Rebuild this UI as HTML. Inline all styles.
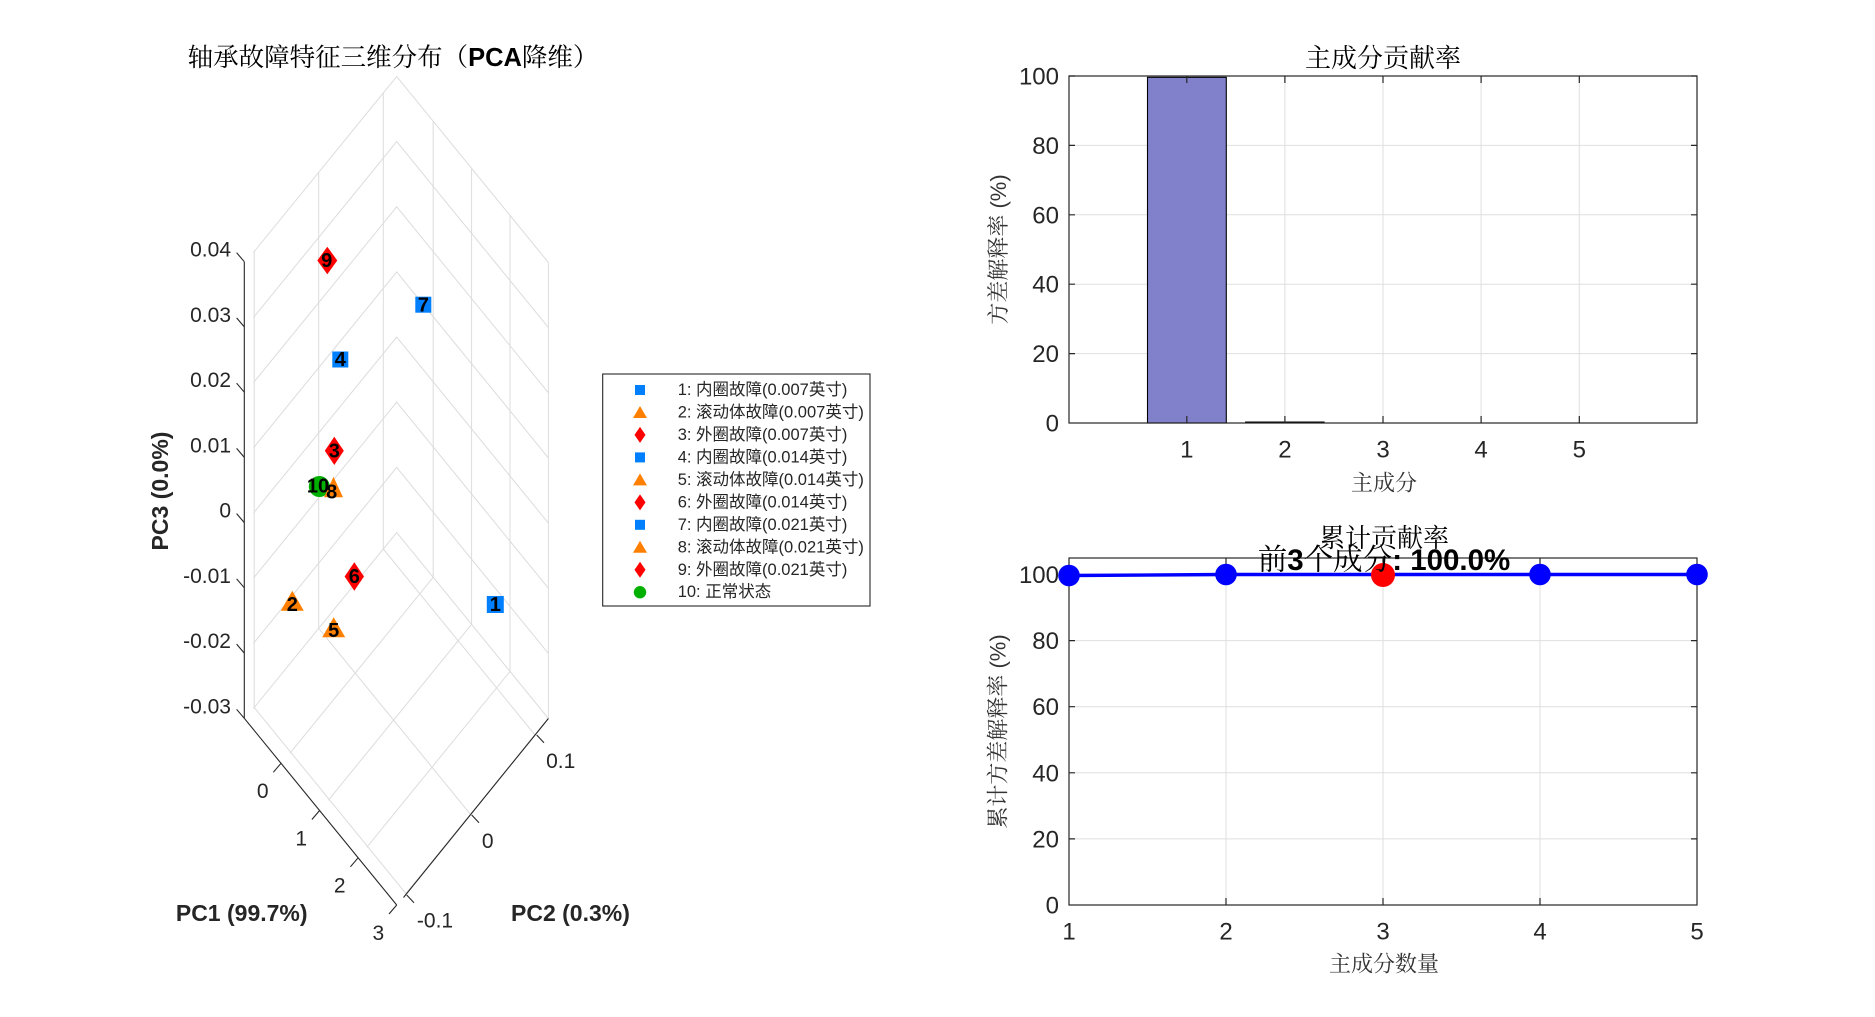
<!DOCTYPE html>
<html><head><meta charset="utf-8"><style>html,body{margin:0;padding:0;background:#fff}svg{display:block}</style></head>
<body>
<svg xmlns="http://www.w3.org/2000/svg" width="1875" height="1017" viewBox="0 0 1875 1017">
<rect width="1875" height="1017" fill="#fff"/>
<g font-family="'Liberation Sans','Noto Serif CJK SC',serif">

<!-- ============ LEFT 3D PLOT ============ -->
<text x="393" y="58" font-size="25.5" text-anchor="middle" dominant-baseline="central" fill="#000">轴承故障特征三维分布（<tspan font-weight="bold" font-family="'Liberation Sans',sans-serif">PCA</tspan>降维）</text>

<g stroke="#dcdcdc" stroke-width="1" fill="none">
  <polyline points="253.4,708.5 396.7,532.5 548.4,718.5"/>
  <polyline points="253.4,643.4 396.7,467.4 548.4,653.4"/>
  <polyline points="253.4,578.2 396.7,402.2 548.4,588.2"/>
  <polyline points="253.4,513.1 396.7,337.1 548.4,523.1"/>
  <polyline points="253.4,447.9 396.7,271.9 548.4,457.9"/>
  <polyline points="253.4,382.8 396.7,206.8 548.4,392.8"/>
  <polyline points="253.4,317.6 396.7,141.6 548.4,327.6"/>
  <polyline points="253.4,252.5 396.7,76.5 548.4,262.5"/>
  <line x1="254.2" y1="707.5" x2="254.2" y2="251.5"/>
  <line x1="318.7" y1="628.3" x2="318.7" y2="172.3"/>
  <line x1="383.3" y1="549" x2="383.3" y2="93"/>
  <line x1="433.2" y1="577.3" x2="433.2" y2="121.3"/>
  <line x1="471.6" y1="624.3" x2="471.6" y2="168.3"/>
  <line x1="510" y1="671.4" x2="510" y2="215.4"/>
  <line x1="548.4" y1="718.5" x2="548.4" y2="262.5"/>
  <line x1="433.2" y1="577.3" x2="289.9" y2="753.3"/>
  <line x1="471.6" y1="624.3" x2="328.3" y2="800.3"/>
  <line x1="510" y1="671.4" x2="366.7" y2="847.4"/>
  <line x1="548.4" y1="718.5" x2="405.1" y2="894.5"/>
  <line x1="383.3" y1="549" x2="535" y2="735"/>
  <line x1="318.7" y1="628.3" x2="470.4" y2="814.3"/>
  <line x1="254.2" y1="707.5" x2="405.9" y2="893.5"/>
</g>

<g stroke="#262626" stroke-width="1.1" fill="none">
  <line x1="244.3" y1="261.7" x2="244.3" y2="718.3"/>
  <line x1="244.3" y1="718.3" x2="396.7" y2="905"/>
  <line x1="403.5" y1="897.5" x2="548.4" y2="718.5"/>
  <line x1="244.3" y1="261.7" x2="236.6" y2="252.7"/>
  <line x1="244.3" y1="326.9" x2="236.6" y2="317.9"/>
  <line x1="244.3" y1="392.2" x2="236.6" y2="383.2"/>
  <line x1="244.3" y1="457.4" x2="236.6" y2="448.4"/>
  <line x1="244.3" y1="522.6" x2="236.6" y2="513.6"/>
  <line x1="244.3" y1="587.8" x2="236.6" y2="578.8"/>
  <line x1="244.3" y1="653.1" x2="236.6" y2="644.1"/>
  <line x1="244.3" y1="718.3" x2="236.6" y2="709.3"/>
  <line x1="281" y1="763.3" x2="273.3" y2="772.3"/>
  <line x1="319.6" y1="810.5" x2="311.9" y2="819.5"/>
  <line x1="358.1" y1="857.8" x2="350.4" y2="866.8"/>
  <line x1="396.7" y1="905" x2="389" y2="914"/>
  <line x1="406.7" y1="895" x2="414" y2="902.7"/>
  <line x1="471.7" y1="815" x2="479" y2="822.7"/>
  <line x1="536.7" y1="735" x2="544" y2="742.7"/>
</g>

<g font-size="21" fill="#262626" dominant-baseline="central" font-family="'Liberation Sans',sans-serif">
  <g text-anchor="end">
    <text x="231" y="250.2">0.04</text>
    <text x="231" y="315.4">0.03</text>
    <text x="231" y="380.7">0.02</text>
    <text x="231" y="445.9">0.01</text>
    <text x="231" y="511.1">0</text>
    <text x="231" y="576.3">-0.01</text>
    <text x="231" y="641.6">-0.02</text>
    <text x="231" y="706.8">-0.03</text>
    <text x="268.5" y="791.7">0</text>
    <text x="307.1" y="838.9">1</text>
    <text x="345.6" y="886.2">2</text>
    <text x="384.2" y="933.4">3</text>
  </g>
  <text x="416.9" y="921">-0.1</text>
  <text x="481.9" y="841.7">0</text>
  <text x="546.1" y="761.7">0.1</text>
</g>

<g font-size="23" font-weight="bold" fill="#262626" dominant-baseline="central" font-family="'Liberation Sans',sans-serif">
  <text x="241.7" y="913" text-anchor="middle">PC1 (99.7%)</text>
  <text x="511" y="913">PC2 (0.3%)</text>
  <text transform="translate(160,491) rotate(-90)" text-anchor="middle">PC3 (0.0%)</text>
</g>

<g>
  <rect x="486.8" y="596" width="17" height="17" fill="#0080ff"/>
  <polygon points="292.3,590.7 303.8,610.7 280.8,610.7" fill="#ff8000"/>
  <polygon points="334.3,436.7 343.8,450.8 334.3,465 324.8,450.8" fill="#ff0000"/>
  <rect x="332.3" y="351.5" width="16" height="16" fill="#0080ff"/>
  <polygon points="333.7,617.3 345.2,637.3 322.2,637.3" fill="#ff8000"/>
  <polygon points="354.3,562.3 364,576.5 354.3,590.7 344.6,576.5" fill="#ff0000"/>
  <rect x="415.3" y="296.7" width="16" height="16" fill="#0080ff"/>
  <circle cx="319.3" cy="486.5" r="10.5" fill="#00b000"/>
  <polygon points="333.5,476.7 343,497.3 324,497.3" fill="#ff8000"/>
  <polygon points="327.3,246.7 337.3,260.5 327.3,274.3 317.3,260.5" fill="#ff0000"/>
</g>
<g font-size="20" font-weight="bold" fill="#000" text-anchor="middle" dominant-baseline="central" font-family="'Liberation Sans',sans-serif">
  <text x="495.3" y="605">1</text>
  <text x="292.3" y="605">2</text>
  <text x="334.3" y="451.5">3</text>
  <text x="340.3" y="360">4</text>
  <text x="333.7" y="631">5</text>
  <text x="354.3" y="577">6</text>
  <text x="423.3" y="305.5">7</text>
  <text x="331.7" y="492.7">8</text>
  <text x="326.7" y="261">9</text>
  <text x="318" y="486.7">10</text>
</g>

<rect x="602.7" y="374" width="267.3" height="232" fill="#fff" stroke="#262626" stroke-width="1.1"/>
<g>
  <rect x="635" y="385" width="10" height="10" fill="#0080ff"/>
  <polygon points="640,406 647,418 633,418" fill="#ff8000"/>
  <polygon points="640,426.9 645.5,434.9 640,442.9 634.5,434.9" fill="#ff0000"/>
  <rect x="635" y="452.4" width="10" height="10" fill="#0080ff"/>
  <polygon points="640,473.4 647,485.4 633,485.4" fill="#ff8000"/>
  <polygon points="640,494.4 645.5,502.4 640,510.4 634.5,502.4" fill="#ff0000"/>
  <rect x="635" y="519.8" width="10" height="10" fill="#0080ff"/>
  <polygon points="640,540.8 647,552.8 633,552.8" fill="#ff8000"/>
  <polygon points="640,561.8 645.5,569.8 640,577.8 634.5,569.8" fill="#ff0000"/>
  <circle cx="640" cy="592.2" r="6.2" fill="#00b000"/>
</g>
<g font-size="16.5" fill="#262626" dominant-baseline="central" font-family="'Liberation Sans','Noto Sans CJK SC',sans-serif">
  <text x="677.7" y="390">1: 内圈故障(0.007英寸)</text>
  <text x="677.7" y="412.5">2: 滚动体故障(0.007英寸)</text>
  <text x="677.7" y="434.9">3: 外圈故障(0.007英寸)</text>
  <text x="677.7" y="457.4">4: 内圈故障(0.014英寸)</text>
  <text x="677.7" y="479.9">5: 滚动体故障(0.014英寸)</text>
  <text x="677.7" y="502.4">6: 外圈故障(0.014英寸)</text>
  <text x="677.7" y="524.8">7: 内圈故障(0.021英寸)</text>
  <text x="677.7" y="547.3">8: 滚动体故障(0.021英寸)</text>
  <text x="677.7" y="569.8">9: 外圈故障(0.021英寸)</text>
  <text x="677.7" y="592.2">10: 正常状态</text>
</g>

<!-- ============ BAR CHART ============ -->
<g stroke="#dfdfdf" stroke-width="1">
  <line x1="1069" y1="353.6" x2="1697" y2="353.6"/>
  <line x1="1069" y1="284.2" x2="1697" y2="284.2"/>
  <line x1="1069" y1="214.8" x2="1697" y2="214.8"/>
  <line x1="1069" y1="145.4" x2="1697" y2="145.4"/>
  <line x1="1186.8" y1="76" x2="1186.8" y2="423"/>
  <line x1="1284.9" y1="76" x2="1284.9" y2="423"/>
  <line x1="1383" y1="76" x2="1383" y2="423"/>
  <line x1="1481.1" y1="76" x2="1481.1" y2="423"/>
  <line x1="1579.3" y1="76" x2="1579.3" y2="423"/>
</g>
<rect x="1147.5" y="77.3" width="78.8" height="345.7" fill="#8181cb" stroke="#000" stroke-width="1.1"/>
<rect x="1245.6" y="422" width="78.5" height="1" fill="#000" stroke="#000" stroke-width="1"/>
<g stroke="#262626" stroke-width="1.2" fill="none">
  <rect x="1069" y="76" width="628" height="347"/>
  <path d="M1069 353.6h6M1069 284.2h6M1069 214.8h6M1069 145.4h6M1069 76h6M1697 353.6h-6M1697 284.2h-6M1697 214.8h-6M1697 145.4h-6M1697 76h-6"/>
  <path d="M1186.8 423v-7M1284.9 423v-7M1383 423v-7M1481.1 423v-7M1579.3 423v-7M1186.8 76v7M1284.9 76v7M1383 76v7M1481.1 76v7M1579.3 76v7"/>
</g>
<g font-size="24" fill="#262626" dominant-baseline="central" font-family="'Liberation Sans',sans-serif">
  <g text-anchor="end">
    <text x="1059" y="424">0</text>
    <text x="1059" y="354.6">20</text>
    <text x="1059" y="285.2">40</text>
    <text x="1059" y="215.8">60</text>
    <text x="1059" y="146.4">80</text>
    <text x="1059" y="77">100</text>
  </g>
  <g text-anchor="middle">
    <text x="1186.8" y="450">1</text>
    <text x="1284.9" y="450">2</text>
    <text x="1383" y="450">3</text>
    <text x="1481.1" y="450">4</text>
    <text x="1579.3" y="450">5</text>
  </g>
</g>
<text x="1383" y="58" font-size="26" text-anchor="middle" dominant-baseline="central" fill="#000">主成分贡献率</text>
<text x="1384" y="483" font-size="22" text-anchor="middle" dominant-baseline="central" fill="#333">主成分</text>
<text transform="translate(998.5,249.5) rotate(-90)" font-size="22" text-anchor="middle" dominant-baseline="central" fill="#333">方差解释率 (%)</text>

<!-- ============ LINE CHART ============ -->
<g stroke="#dfdfdf" stroke-width="1">
  <line x1="1069" y1="838.9" x2="1697" y2="838.9"/>
  <line x1="1069" y1="772.8" x2="1697" y2="772.8"/>
  <line x1="1069" y1="706.7" x2="1697" y2="706.7"/>
  <line x1="1069" y1="640.6" x2="1697" y2="640.6"/>
  <line x1="1069" y1="574.5" x2="1697" y2="574.5"/>
  <line x1="1226" y1="558" x2="1226" y2="905"/>
  <line x1="1383" y1="558" x2="1383" y2="905"/>
  <line x1="1540" y1="558" x2="1540" y2="905"/>
</g>
<g stroke="#262626" stroke-width="1.2" fill="none">
  <rect x="1069" y="558" width="628" height="347"/>
  <path d="M1069 838.9h6M1069 772.8h6M1069 706.7h6M1069 640.6h6M1069 574.5h6M1697 838.9h-6M1697 772.8h-6M1697 706.7h-6M1697 640.6h-6M1697 574.5h-6"/>
  <path d="M1226 905v-7M1383 905v-7M1540 905v-7M1226 558v7M1383 558v7M1540 558v7"/>
</g>
<polyline points="1069,575.5 1226,574.5 1383,574.5 1540,574.5 1697,574.5" fill="none" stroke="#0000ff" stroke-width="3.4"/>
<g fill="#0000ff">
  <circle cx="1069" cy="575.5" r="10.8"/>
  <circle cx="1226" cy="574.5" r="10.8"/>
  <circle cx="1383" cy="574.5" r="10.8"/>
  <circle cx="1540" cy="574.5" r="10.8"/>
  <circle cx="1697" cy="574.5" r="10.8"/>
</g>
<circle cx="1383" cy="575" r="12" fill="#ff0000"/>
<g font-size="24" fill="#262626" dominant-baseline="central" font-family="'Liberation Sans',sans-serif">
  <g text-anchor="end">
    <text x="1059" y="906">0</text>
    <text x="1059" y="839.9">20</text>
    <text x="1059" y="773.8">40</text>
    <text x="1059" y="707.7">60</text>
    <text x="1059" y="641.6">80</text>
    <text x="1059" y="575.5">100</text>
  </g>
  <g text-anchor="middle">
    <text x="1069" y="932">1</text>
    <text x="1226" y="932">2</text>
    <text x="1383" y="932">3</text>
    <text x="1540" y="932">4</text>
    <text x="1697" y="932">5</text>
  </g>
</g>
<text x="1384" y="538" font-size="26" text-anchor="middle" dominant-baseline="central" fill="#000">累计贡献率</text>
<text x="1384" y="560" font-size="29.5" text-anchor="middle" dominant-baseline="central" fill="#000">前<tspan font-weight="bold" font-family="'Liberation Sans',sans-serif">3</tspan>个成分<tspan font-weight="bold" font-family="'Liberation Sans',sans-serif">: 100.0%</tspan></text>
<text x="1384" y="964" font-size="22" text-anchor="middle" dominant-baseline="central" fill="#333">主成分数量</text>
<text transform="translate(998,731.5) rotate(-90)" font-size="22" text-anchor="middle" dominant-baseline="central" fill="#333">累计方差解释率 (%)</text>

</g>
</svg>
</body></html>
